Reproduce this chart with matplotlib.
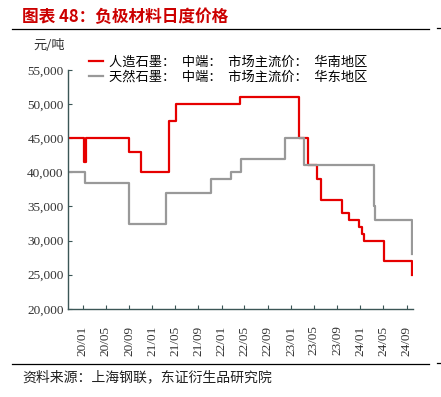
import matplotlib
matplotlib.use("Agg")
import matplotlib.pyplot as plt
import pandas as pd

plt.rcParams['font.family'] = ['Noto Sans CJK SC', 'DejaVu Sans']

# 人造石墨 (华南) step changes
art_dates = ["2019-10-15", "2020-01-10", "2020-01-20", "2020-09-01", "2020-11-01",
             "2021-04-01", "2021-05-05", "2022-04-05", "2023-02-10", "2023-04-01",
             "2023-05-18", "2023-06-06", "2023-09-27", "2023-11-03", "2023-12-24",
             "2024-01-12", "2024-01-21", "2024-05-03", "2024-09-28", "2024-10-01"]
art_vals = [45000, 41500, 45000, 43000, 40000,
            47500, 50000, 51000, 45000, 41000,
            39000, 36000, 34000, 33000, 32000,
            31000, 30000, 27000, 25000, 25000]

# 天然石墨 (华东) step changes
nat_dates = ["2019-10-15", "2020-01-15", "2020-09-01", "2021-03-15", "2021-11-05",
             "2022-02-18", "2022-04-12", "2022-12-01", "2023-03-10", "2024-03-15",
             "2024-03-20", "2024-09-28", "2024-10-01"]
nat_vals = [40000, 38500, 32500, 37000, 39000,
            40000, 42000, 45000, 41000, 35000,
            33000, 28000, 28000]

tick_months = pd.date_range("2020-01-01", "2024-09-01", freq="4MS")

sp = "\u2002"  # en space after the colons, as in the source legend
fig = plt.figure(figsize=(4.41, 3.97), dpi=100)
ax = fig.add_axes([0.154, 0.222, 0.783, 0.602])

ax.step(pd.to_datetime(art_dates), art_vals, where="post", color="#e60000", lw=1.6,
        label=f"人造石墨：{sp}中端：{sp}市场主流价：{sp}华南地区")
ax.step(pd.to_datetime(nat_dates), nat_vals, where="post", color="#999999", lw=1.6,
        label=f"天然石墨：{sp}中端：{sp}市场主流价：{sp}华东地区")

ax.set_ylim(20000, 55000)
ax.set_xlim(pd.Timestamp("2019-10-15"), pd.Timestamp("2024-10-05"))
ax.set_yticks(range(20000, 55001, 5000))
ax.set_yticklabels([f"{v:,}" for v in range(20000, 55001, 5000)],
                   family="Liberation Serif", fontsize=9.5, color="#333333")
ax.set_xticks(tick_months)
ax.set_xticklabels([d.strftime("%y/%m") for d in tick_months], rotation=90,
                   family="Liberation Serif", fontsize=9.5, color="#333333")
ax.tick_params(axis="both", direction="in", length=3, color="#3b5656")
ax.tick_params(axis="x", pad=12)
ax.tick_params(axis="y", pad=3)

for s in ["top", "right"]:
    ax.spines[s].set_visible(False)
for s in ["left", "bottom"]:
    ax.spines[s].set_color("#3b5656")
    ax.spines[s].set_linewidth(1.0)

ax.legend(loc="upper left", bbox_to_anchor=(0.045, 1.08), frameon=False,
          fontsize=9.5, handlelength=1.1, handletextpad=0.4, labelspacing=0.1,
          borderaxespad=0)

fig.text(0.05, 0.957, "图表 48：负极材料日度价格", color="#cc0000", fontsize=12,
         fontweight="bold", va="center")
fig.add_artist(plt.Line2D([0.027, 0.972], [0.928, 0.928], color="black", lw=0.9))
fig.add_artist(plt.Line2D([0.99, 1.0], [0.93, 0.93], color="black", lw=0.9))
fig.text(0.075, 0.886, "元/吨", fontsize=9.5, color="#333333", va="center")
fig.add_artist(plt.Line2D([0.027, 0.972], [0.083, 0.083], color="black", lw=0.9))
fig.add_artist(plt.Line2D([0.99, 1.0], [0.085, 0.085], color="black", lw=0.9))
fig.text(0.05, 0.05, "资料来源：上海钢联，东证衍生品研究院", fontsize=10, color="#222222",
         va="center")

fig.savefig("out.png", dpi=100)
